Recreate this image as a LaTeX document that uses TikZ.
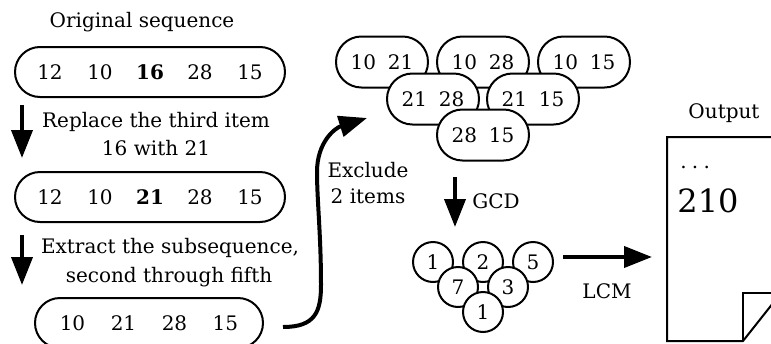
\documentclass[tikz,border=0pt]{standalone}
\usepackage{fontspec}
\setmainfont{DejaVu Serif}
\usetikzlibrary{arrows.meta}
\newcommand\seqcell[2][25pt]{\makebox[#1]{#2}}
\begin{document}
\begin{tikzpicture}[x=0.5pt,y=-0.5pt,
  font=\fontsize{10pt}{14pt}\selectfont,
  seqbox/.style={draw,line width=1pt,rounded corners=12.5pt,minimum height=25pt,inner sep=0pt},
  pairbox/.style={draw,fill=white,line width=1pt,rounded corners=12.7pt,minimum height=25.5pt,minimum width=46pt,inner sep=0pt},
  numcirc/.style={draw,fill=white,circle,line width=1pt,minimum size=20pt,inner sep=0pt},
  bigarrow/.style={line width=2pt,-{Triangle[length=14pt,width=10.5pt]}},
  lbl/.style={inner sep=0pt},
  docline/.style={line width=1pt,line join=miter}
]
\useasboundingbox (0,0) rectangle (771,343);

% left column
\node[lbl,anchor=base] (title) at (142,27) {Original sequence};
\node[seqbox,minimum width=135pt] (b1) at (150,72)
  {\seqcell{12}\seqcell{10}\seqcell{\textbf{16}}\seqcell{28}\seqcell{15}};
\coordinate (a1s) at (22,105);
\coordinate (a1e) at (22,158);
\draw[bigarrow] (a1s) -- (a1e);
\node[lbl,anchor=base] (t1a) at (156,127) {Replace the third item};
\node[lbl,anchor=base] (t1b) at (156,155) {16 with 21};

\node[seqbox,minimum width=135pt] (b2) at (150,197)
  {\seqcell{12}\seqcell{10}\seqcell{\textbf{21}}\seqcell{28}\seqcell{15}};
\coordinate (a2s) at (22,235);
\coordinate (a2e) at (22,285);
\draw[bigarrow] (a2s) -- (a2e);
\node[lbl,anchor=base] (t2a) at (170,253) {Extract the subsequence,};
\node[lbl,anchor=base] (t2b) at (169,282) {second through fifth};

\node[seqbox,minimum width=114pt] (b3) at (149,323)
  {\seqcell[25.5pt]{10}\seqcell[25.5pt]{21}\seqcell[25.5pt]{28}\seqcell[25.5pt]{15}};

% curved arrow
\coordinate (cs) at (283,327);
\coordinate (ce) at (367,118);
\draw[bigarrow] (cs) .. controls (315,327) and (321,312) .. (321,285)
  .. controls (321,235) and (317,200) .. (317,172)
  .. controls (317,142) and (335,128) .. (ce);
\node[lbl,anchor=base] (ex1) at (368,177) {Exclude};
\node[lbl,anchor=base] (ex2) at (368,203) {2 items};

% pairs
\node[pairbox] (p1) at (382,62) {10\hspace{0.6em}21};
\node[pairbox] (p2) at (483,62) {10\hspace{0.6em}28};
\node[pairbox] (p3) at (584,62) {10\hspace{0.6em}15};
\node[pairbox] (p4) at (433,99) {21\hspace{0.6em}28};
\node[pairbox] (p5) at (533,99) {21\hspace{0.6em}15};
\node[pairbox] (p6) at (483,135) {28\hspace{0.6em}15};

% GCD
\coordinate (gs) at (455,177);
\coordinate (ge) at (455,227);
\draw[bigarrow] (gs) -- (ge);
\node[lbl,anchor=base west] (gcd) at (472,208) {GCD};

% circles
\node[numcirc] (c1) at (433,262) {1};
\node[numcirc] (c2) at (483,262) {2};
\node[numcirc] (c3) at (533,262) {5};
\node[numcirc] (c4) at (458,287) {7};
\node[numcirc] (c5) at (508,287) {3};
\node[numcirc] (c6) at (483,312) {1};

% LCM
\coordinate (ls) at (563,257);
\coordinate (le) at (652,257);
\draw[bigarrow] (ls) -- (le);
\node[lbl,anchor=base] (lcm) at (607,298) {LCM};

% output document
\node[lbl,anchor=base] (outlbl) at (724,118) {Output};
\draw[docline] (667,137) -- (781,137) -- (781,293) -- (743,341) -- (667,341) -- cycle;
\draw[docline] (743,341) -- (743,293) -- (781,293);
\node[lbl,anchor=base west] (dots) at (680,168) {.\hspace{2.6pt}.\hspace{2.6pt}.};
\node[lbl,anchor=base west,font=\fontsize{16pt}{20pt}\selectfont] (res) at (677,212) {210};
\end{tikzpicture}
\end{document}
